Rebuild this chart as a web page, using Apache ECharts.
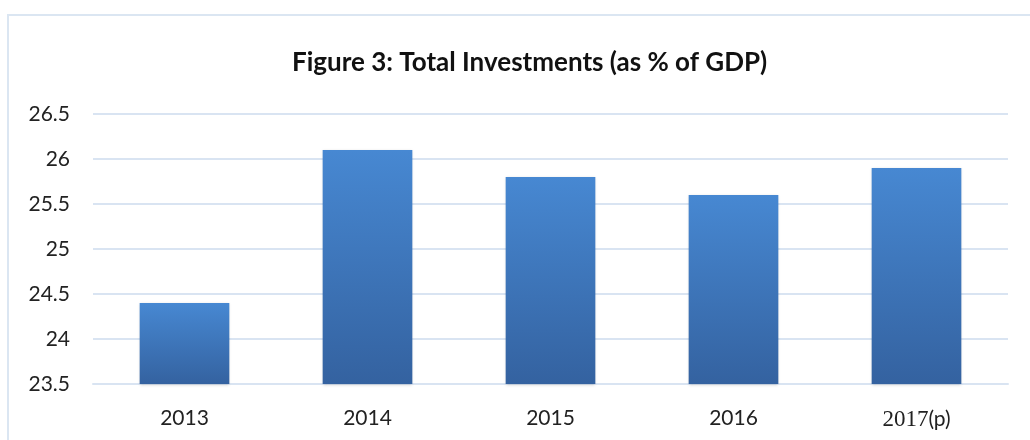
<!DOCTYPE html>
<html>
<head>
<meta charset="utf-8">
<script src="https://cdn.jsdelivr.net/npm/echarts@6/dist/echarts.min.js"></script>
<style>
  html, body { margin: 0; padding: 0; background: #fff; }
  #chart { width: 1030px; height: 440px; }
</style>
</head>
<body>
<div id="chart"></div>
<script>
// Total investments as a share of GDP, by year
const years = ['2013', '2014', '2015', '2016', '2017(p)'];
const investmentPct = [24.4, 26.1, 25.8, 25.6, 25.9];
const yTicks = { min: 23.5, max: 26.5, step: 0.5 };

const chart = echarts.init(document.getElementById('chart'));

const gridColor = '#d9e4f2';
const labelFont = 'Lato, "Open Sans", "Liberation Sans", sans-serif';

chart.setOption({
  animation: false,
  backgroundColor: '#ffffff',
  graphic: [{
    type: 'rect',
    shape: { x: 8, y: 15, width: 1040, height: 440 },
    style: { fill: 'none', stroke: '#dbe6f2', lineWidth: 2 },
    silent: true
  }],
  title: {
    text: 'Figure 3: Total Investments (as % of GDP)',
    left: 287,
    top: 45,
    textStyle: {
      fontFamily: labelFont,
      fontWeight: 'bold',
      fontSize: 26,
      color: '#111'
    }
  },
  grid: { left: 93, right: 22, top: 114, bottom: 56, containLabel: false },
  xAxis: {
    type: 'category',
    data: years,
    axisLine: { show: true, lineStyle: { color: gridColor, width: 2 } },
    axisTick: { show: false },
    axisLabel: {
      margin: 24,
      fontFamily: labelFont,
      fontSize: 21,
      color: '#222',
      formatter: function (v) {
        const m = v.match(/^(\d+)(\(.*\))$/);
        return m ? '{serif|' + m[1] + '}' + m[2] : v;
      },
      rich: {
        serif: { fontFamily: '"Liberation Serif", "DejaVu Serif", serif', fontSize: 23, color: '#222' }
      }
    }
  },
  yAxis: {
    type: 'value',
    min: yTicks.min,
    max: yTicks.max,
    interval: yTicks.step,
    axisLine: { show: false },
    axisTick: { show: false },
    axisLabel: {
      margin: 23,
      fontFamily: labelFont,
      fontSize: 21,
      color: '#222'
    },
    splitLine: { lineStyle: { color: gridColor, width: 2 } }
  },
  series: [{
    type: 'bar',
    data: investmentPct,
    barWidth: '49%',
    itemStyle: {
      color: new echarts.graphic.LinearGradient(0, 0, 0, 1, [
        { offset: 0, color: '#4788d2' },
        { offset: 1, color: '#3462a0' }
      ]),
      shadowColor: 'rgba(0,0,0,0.18)',
      shadowBlur: 3,
      shadowOffsetY: 1
    }
  }]
});
</script>
</body>
</html>
